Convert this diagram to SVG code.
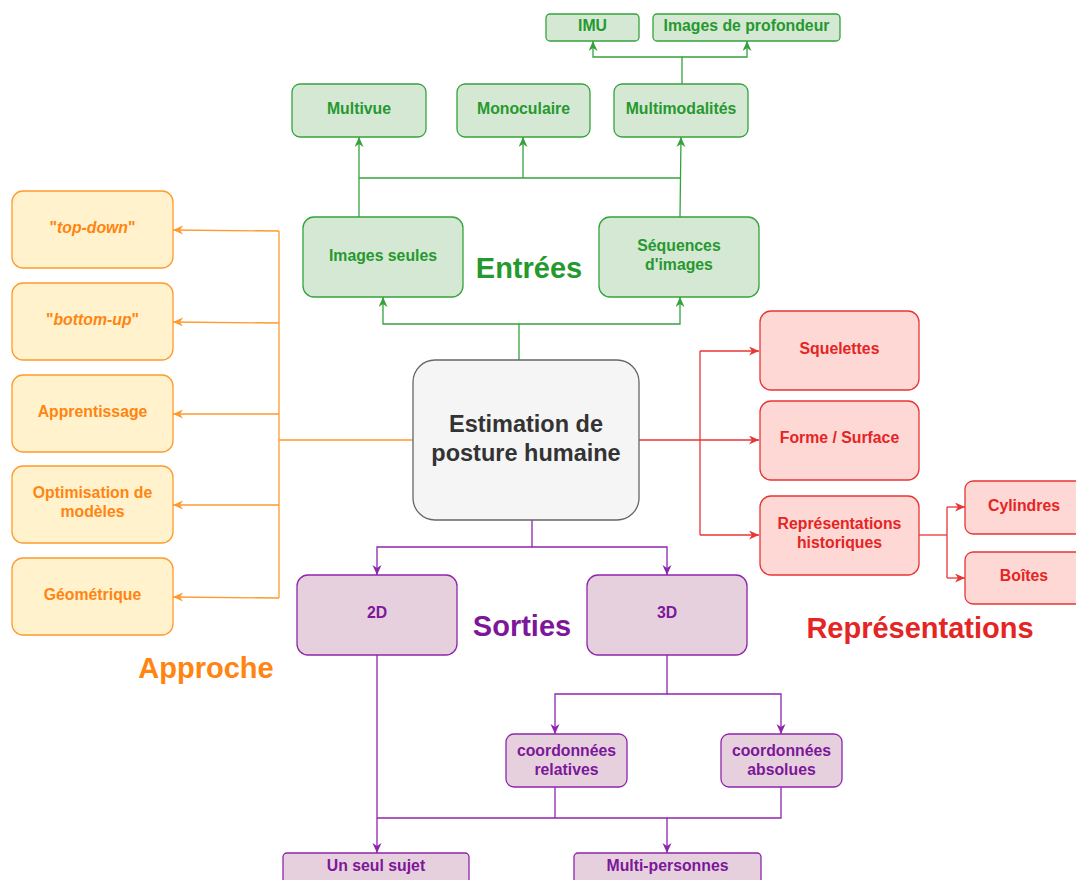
<svg xmlns="http://www.w3.org/2000/svg" width="1076" height="880" viewBox="0 0 1076 880">
  <style>
    text { font-family: "Liberation Sans", Arial, Helvetica, sans-serif; font-weight: bold; text-anchor: middle; }
    .lbl { font-size: 15.8px; }
    .head { font-size: 29px; }
    .g rect { fill: #d5e8d4; stroke: #34a33c; stroke-width: 1.3; }
    .g text { fill: #25992e; }
    .o rect { fill: #fff2cc; stroke: #ff9a2e; stroke-width: 1.3; }
    .o text { fill: #ff8410; }
    .r rect { fill: #fdd8d4; stroke: #e83535; stroke-width: 1.3; }
    .r text { fill: #e52424; }
    .p rect { fill: #e6d0de; stroke: #8e25ad; stroke-width: 1.3; }
    .p text { fill: #7d1799; }
    .c rect { fill: #f5f5f5; stroke: #666666; stroke-width: 1.3; }
    .c text { fill: #333333; font-size: 23.5px; }
    .wg { fill: none; stroke: #34a33c; stroke-width: 1.3; }
    .wo { fill: none; stroke: #ff9a2e; stroke-width: 1.3; }
    .wr { fill: none; stroke: #e83535; stroke-width: 1.3; }
    .wp { fill: none; stroke: #8e25ad; stroke-width: 1.3; }
  </style>
  <defs>
    <marker id="ag" markerWidth="12" markerHeight="10" refX="10" refY="4.5" orient="auto" markerUnits="userSpaceOnUse">
      <path d="M0,0 L10,4.5 L0,9 L3,4.5 z" fill="#34a33c"/>
    </marker>
    <marker id="ao" markerWidth="12" markerHeight="10" refX="10" refY="4.5" orient="auto" markerUnits="userSpaceOnUse">
      <path d="M0,0 L10,4.5 L0,9 L3,4.5 z" fill="#ff9a2e"/>
    </marker>
    <marker id="ar" markerWidth="12" markerHeight="10" refX="10" refY="4.5" orient="auto" markerUnits="userSpaceOnUse">
      <path d="M0,0 L10,4.5 L0,9 L3,4.5 z" fill="#e83535"/>
    </marker>
    <marker id="ap" markerWidth="12" markerHeight="10" refX="10" refY="4.5" orient="auto" markerUnits="userSpaceOnUse">
      <path d="M0,0 L10,4.5 L0,9 L3,4.5 z" fill="#8e25ad"/>
    </marker>
  </defs>

  <!-- connectors -->
  <g id="connectors">
    <!-- inputs (green) -->
    <path class="wg" d="M682,84 V57 H593 V41" marker-end="url(#ag)"/>
    <path class="wg" d="M682,57 H747 V41" marker-end="url(#ag)"/>
    <path class="wg" d="M359,217 V137" marker-end="url(#ag)"/>
    <path class="wg" d="M359,178 H680"/>
    <path class="wg" d="M523,178 V137" marker-end="url(#ag)"/>
    <path class="wg" d="M680,217 L681,137" marker-end="url(#ag)"/>
    <path class="wg" d="M519,360 V324 H383 V297" marker-end="url(#ag)"/>
    <path class="wg" d="M519,324 H680 V297" marker-end="url(#ag)"/>
    <!-- approach (orange) -->
    <path class="wo" d="M413,440 H279"/>
    <path class="wo" d="M279,231 V598"/>
    <path class="wo" d="M279,231 L173,230" marker-end="url(#ao)"/>
    <path class="wo" d="M279,323 L173,322" marker-end="url(#ao)"/>
    <path class="wo" d="M279,414 H173" marker-end="url(#ao)"/>
    <path class="wo" d="M279,505 H173" marker-end="url(#ao)"/>
    <path class="wo" d="M279,598 L173,597" marker-end="url(#ao)"/>
    <!-- representations (red) -->
    <path class="wr" d="M639,440 H759" marker-end="url(#ar)"/>
    <path class="wr" d="M700,351 V535"/>
    <path class="wr" d="M700,351 H759" marker-end="url(#ar)"/>
    <path class="wr" d="M700,535 H759" marker-end="url(#ar)"/>
    <path class="wr" d="M919,535 H947"/>
    <path class="wr" d="M947,507 V578"/>
    <path class="wr" d="M947,507 H965" marker-end="url(#ar)"/>
    <path class="wr" d="M947,578 H965" marker-end="url(#ar)"/>
    <!-- outputs (purple) -->
    <path class="wp" d="M532,520 V547 H377 V575" marker-end="url(#ap)"/>
    <path class="wp" d="M532,547 H667 V575" marker-end="url(#ap)"/>
    <path class="wp" d="M667,655 V694 H555 V734" marker-end="url(#ap)"/>
    <path class="wp" d="M667,694 H781 V734" marker-end="url(#ap)"/>
    <path class="wp" d="M377,655 V853" marker-end="url(#ap)"/>
    <path class="wp" d="M555,787 V818"/>
    <path class="wp" d="M781,787 V818 H377"/>
    <path class="wp" d="M667,818 V853" marker-end="url(#ap)"/>
  </g>

  <!-- central node -->
  <g id="estimation" class="c">
    <rect x="413" y="360" width="226" height="160" rx="22"/>
    <text x="526" y="432">Estimation de</text>
    <text x="526" y="461">posture humaine</text>
  </g>

  <!-- inputs -->
  <g id="imu" class="g">
    <rect x="546" y="14" width="93" height="27" rx="4"/>
    <text class="lbl" x="592.5" y="31">IMU</text>
  </g>
  <g id="profondeur" class="g">
    <rect x="653" y="14" width="187" height="27" rx="4"/>
    <text class="lbl" x="746.5" y="31">Images de profondeur</text>
  </g>
  <g id="multivue" class="g">
    <rect x="292" y="84" width="134" height="53" rx="8"/>
    <text class="lbl" x="359" y="114">Multivue</text>
  </g>
  <g id="monoculaire" class="g">
    <rect x="457" y="84" width="133" height="53" rx="8"/>
    <text class="lbl" x="523.5" y="114">Monoculaire</text>
  </g>
  <g id="multimodalites" class="g">
    <rect x="614" y="84" width="134" height="53" rx="8"/>
    <text class="lbl" x="681" y="114">Multimodalités</text>
  </g>
  <g id="images-seules" class="g">
    <rect x="303" y="217" width="160" height="80" rx="11"/>
    <text class="lbl" x="383" y="261">Images seules</text>
  </g>
  <g id="sequences" class="g">
    <rect x="599" y="217" width="160" height="80" rx="11"/>
    <text class="lbl" x="679" y="251">Séquences</text>
    <text class="lbl" x="679" y="270">d'images</text>
  </g>
  <g id="label-entrees" class="g">
    <text class="head" x="529" y="278">Entrées</text>
  </g>

  <!-- approach -->
  <g id="top-down" class="o">
    <rect x="12" y="191" width="161" height="77" rx="11"/>
    <text class="lbl" x="92.5" y="233">"<tspan font-style="italic">top-down</tspan>"</text>
  </g>
  <g id="bottom-up" class="o">
    <rect x="12" y="283" width="161" height="77" rx="11"/>
    <text class="lbl" x="92.5" y="325">"<tspan font-style="italic">bottom-up</tspan>"</text>
  </g>
  <g id="apprentissage" class="o">
    <rect x="12" y="375" width="161" height="77" rx="11"/>
    <text class="lbl" x="92.5" y="417">Apprentissage</text>
  </g>
  <g id="optimisation" class="o">
    <rect x="12" y="466" width="161" height="77" rx="11"/>
    <text class="lbl" x="92.5" y="498">Optimisation de</text>
    <text class="lbl" x="92.5" y="517">modèles</text>
  </g>
  <g id="geometrique" class="o">
    <rect x="12" y="558" width="161" height="77" rx="11"/>
    <text class="lbl" x="92.5" y="600">Géométrique</text>
  </g>
  <g id="label-approche" class="o">
    <text class="head" x="206" y="678">Approche</text>
  </g>

  <!-- representations -->
  <g id="squelettes" class="r">
    <rect x="760" y="311" width="159" height="79" rx="11"/>
    <text class="lbl" x="839.5" y="354">Squelettes</text>
  </g>
  <g id="forme-surface" class="r">
    <rect x="760" y="401" width="159" height="79" rx="11"/>
    <text class="lbl" x="839.5" y="443">Forme / Surface</text>
  </g>
  <g id="historiques" class="r">
    <rect x="760" y="496" width="159" height="79" rx="11"/>
    <text class="lbl" x="839.5" y="529">Représentations</text>
    <text class="lbl" x="839.5" y="548">historiques</text>
  </g>
  <g id="cylindres" class="r">
    <rect x="965" y="481" width="119" height="53" rx="8"/>
    <text class="lbl" x="1024" y="511">Cylindres</text>
  </g>
  <g id="boites" class="r">
    <rect x="965" y="552" width="119" height="52" rx="8"/>
    <text class="lbl" x="1024" y="581">Boîtes</text>
  </g>
  <g id="label-representations" class="r">
    <text class="head" x="920" y="638">Représentations</text>
  </g>

  <!-- outputs -->
  <g id="sortie-2d" class="p">
    <rect x="297" y="575" width="160" height="80" rx="11"/>
    <text class="lbl" x="377" y="618">2D</text>
  </g>
  <g id="sortie-3d" class="p">
    <rect x="587" y="575" width="160" height="80" rx="11"/>
    <text class="lbl" x="667" y="618">3D</text>
  </g>
  <g id="label-sorties" class="p">
    <text class="head" x="522" y="636">Sorties</text>
  </g>
  <g id="relatives" class="p">
    <rect x="506" y="734" width="121" height="53" rx="8"/>
    <text class="lbl" x="566.5" y="756">coordonnées</text>
    <text class="lbl" x="566.5" y="775">relatives</text>
  </g>
  <g id="absolues" class="p">
    <rect x="721" y="734" width="121" height="53" rx="8"/>
    <text class="lbl" x="781.5" y="756">coordonnées</text>
    <text class="lbl" x="781.5" y="775">absolues</text>
  </g>
  <g id="seul-sujet" class="p">
    <rect x="283" y="853" width="186" height="32" rx="4"/>
    <text class="lbl" x="376" y="871">Un seul sujet</text>
  </g>
  <g id="multi-personnes" class="p">
    <rect x="574" y="853" width="187" height="32" rx="4"/>
    <text class="lbl" x="667.5" y="871">Multi-personnes</text>
  </g>
</svg>
